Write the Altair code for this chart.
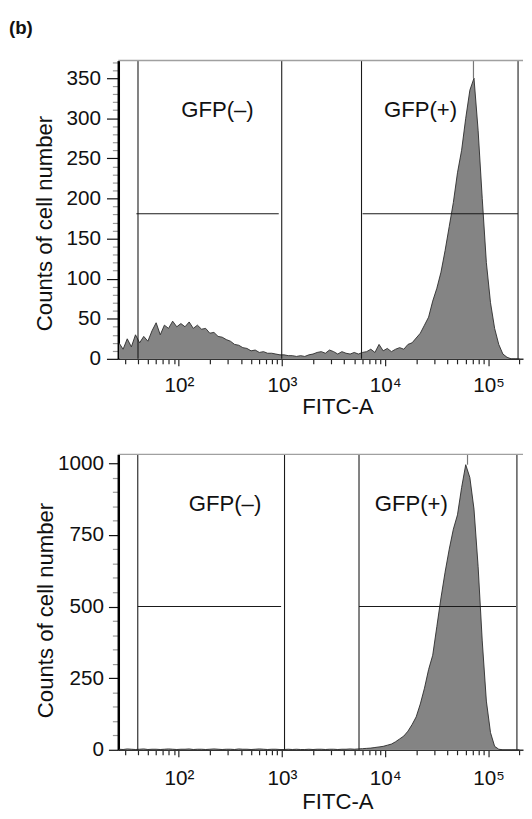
import altair as alt
import pandas as pd

# ---------------- data ----------------
LOG_BINS = [1.42, 1.46, 1.50, 1.54, 1.58, 1.62, 1.66, 1.70, 1.74, 1.78,
            1.82, 1.86, 1.90, 1.94, 1.98, 2.02, 2.06, 2.10, 2.14, 2.18,
            2.22, 2.26, 2.30, 2.34, 2.38, 2.42, 2.46, 2.50, 2.54, 2.58,
            2.62, 2.66, 2.70, 2.74, 2.78, 2.82, 2.86, 2.90, 2.94, 2.98,
            3.02, 3.06, 3.10, 3.14, 3.18, 3.22, 3.26, 3.30, 3.34, 3.38,
            3.42, 3.46, 3.50, 3.54, 3.58, 3.62, 3.66, 3.70, 3.74, 3.78,
            3.82, 3.86, 3.90, 3.94, 3.98, 4.02, 4.06, 4.10, 4.14, 4.18,
            4.22, 4.26, 4.30, 4.34, 4.38, 4.42, 4.46, 4.50, 4.54, 4.58,
            4.62, 4.66, 4.70, 4.74, 4.78, 4.82, 4.86, 4.90, 4.94, 4.98,
            5.02, 5.06, 5.10, 5.14, 5.18, 5.22, 5.26, 5.30]

TOP_COUNTS = [20, 12, 25, 15, 30, 20, 28, 22, 35, 45,
              30, 42, 38, 47, 40, 44, 40, 46, 38, 42,
              37, 38, 32, 33, 28, 27, 24, 22, 18, 17,
              14, 13, 10, 11, 8, 9, 7, 7, 6, 5,
              5, 4, 4, 3, 4, 3, 5, 6, 8, 9,
              7, 11, 9, 6, 9, 7, 6, 8, 6, 8,
              9, 12, 8, 18, 10, 13, 9, 12, 14, 12,
              18, 20, 26, 32, 42, 52, 72, 88, 108, 135,
              165, 195, 232, 260, 300, 335, 350, 285, 200, 120,
              70, 38, 18, 6, 2, 0, 0, 0]

BOTTOM_COUNTS = [2, 1, 3, 2, 1, 2, 3, 1, 2, 2,
                 1, 2, 3, 2, 1, 2, 2, 3, 1, 2,
                 2, 1, 2, 3, 2, 1, 2, 2, 1, 3,
                 2, 2, 1, 2, 3, 2, 1, 2, 2, 1,
                 1, 2, 1, 2, 1, 1, 2, 1, 2, 2,
                 1, 2, 2, 1, 2, 2, 3, 2, 3, 4,
                 5, 6, 8, 10, 12, 16, 20, 28, 38, 48,
                 65, 88, 115, 160, 215, 280, 330, 430, 530, 620,
                 700, 770, 820, 915, 995, 950, 840, 640, 380, 170,
                 60, 12, 2, 0, 0, 0, 0, 0]

X_TICKS = [30, 40, 50, 60, 70, 80, 90,
           100, 200, 300, 400, 500, 600, 700, 800, 900,
           1000, 2000, 3000, 4000, 5000, 6000, 7000, 8000, 9000,
           10000, 20000, 30000, 40000, 50000, 60000, 70000, 80000, 90000,
           100000, 200000]
X_DOMAIN = [25.9, 216300]

TOP_Y_TICKS = [0, 10, 20, 30, 40, 50, 60, 70, 80, 90, 100, 110, 120, 130, 140,
               150, 160, 170, 180, 190, 200, 210, 220, 230, 240, 250, 260, 270,
               280, 290, 300, 310, 320, 330, 340, 350, 360, 370]
TOP_Y_DOMAIN = [0, 372]
BOTTOM_Y_TICKS = [0, 50, 100, 150, 200, 250, 300, 350, 400, 450, 500, 550,
                  600, 650, 700, 750, 800, 850, 900, 950, 1000]
BOTTOM_Y_DOMAIN = [0, 1031]

TOP_GATES_V = [40.2, 993, 5890, 193600]
TOP_GATES_H_X = [38.8, 6030]
TOP_GATES_H_X2 = [929, 193600]
TOP_GATE_Y = 181

BOTTOM_GATES_V = [40, 1057, 5570, 188800]
BOTTOM_GATES_H_X = [40, 5570]
BOTTOM_GATES_H_X2 = [979, 185000]
BOTTOM_GATE_Y = 500

LABELS = ["GFP(\u2013)", "GFP(+)"]
TOP_LABEL_X = [236.6, 22000]
TOP_LABEL_Y = 310
BOTTOM_LABEL_X = [280, 17900]
BOTTOM_LABEL_Y = 859

TOP_SPIKE = {"x": 71600, "y": 350, "y2": 372}
BOTTOM_SPIKE = {"x": 62700, "y": 995, "y2": 1031}

FONT = "Liberation Sans"
W = 411


def panel(counts, y_ticks, y_domain, major_step, gates_v, gh_x, gh_x2, gate_y,
          label_x, label_y, spike, height, title_y, title_x, label_pad,
          xtitle_y, ytick_major, ylabel_pad, with_tag):
    hist = pd.DataFrame({"x": [10 ** b for b in LOG_BINS], "y": counts})
    xscale = alt.Scale(type="log", domain=X_DOMAIN, nice=False)
    yscale = alt.Scale(domain=y_domain, nice=False, zero=True)
    decade = "(datum.value==100||datum.value==1000||datum.value==10000||datum.value==100000)"
    xaxis = alt.Axis(
        values=X_TICKS, grid=False,
        labelExpr="datum.value==100?'10\u00b2':datum.value==1000?'10\u00b3':"
                  "datum.value==10000?'10\u2074':datum.value==100000?'10\u2075':''",
        labelOverlap=False, labelFont=FONT, labelFontSize=21, labelColor="#111",
        labelBaseline="alphabetic", labelPadding=label_pad,
        tickSize={"condition": {"test": decade, "value": 7}, "value": 5},
        tickColor="#222", tickWidth=1.2,
        domainColor="#333", domainWidth=1.5,
        title="FITC-A", titleFont=FONT, titleFontSize=22.5, titleFontWeight="normal",
        titleColor="#111", titleX=222.6, titleY=xtitle_y, titleBaseline="alphabetic",
        titleAlign="center")
    major = f"datum.value % {major_step} === 0"
    yaxis = alt.Axis(
        values=y_ticks, grid=False,
        labelExpr=f"{major} ? '' + datum.value : ''",
        labelOverlap=False, labelFont=FONT, labelFontSize=21, labelColor="#111",
        labelPadding=ylabel_pad,
        tickSize={"condition": {"test": major, "value": ytick_major}, "value": 6},
        tickColor={"condition": {"test": major, "value": "#111"}, "value": "#999"},
        tickWidth=1.2,
        domainColor="#000", domainWidth=2.5,
        title="Counts of cell number", titleFont=FONT, titleFontSize=22.5,
        titleFontWeight="normal", titleColor="#111",
        titleX=title_x, titleY=title_y, titleBaseline="alphabetic", titleAngle=270,
        titleAlign="center")
    X = alt.X("x:Q", scale=xscale, axis=xaxis)
    Y = alt.Y("y:Q", scale=yscale, axis=yaxis)

    area = alt.Chart(hist).mark_area(interpolate="linear", color="#848484").encode(x=X, y=Y)
    line = alt.Chart(hist).mark_line(interpolate="linear", color="#2a2a2a",
                                     strokeWidth=0.9).encode(x=X, y=Y)
    spike_df = pd.DataFrame([spike])
    spk = alt.Chart(spike_df).mark_rule(color="#777", strokeWidth=1.2).encode(
        x=X, y=Y, y2="y2:Q")
    vg = alt.Chart(pd.DataFrame({"x": gates_v})).mark_rule(
        color="#1a1a1a", strokeWidth=1.1).encode(x=X)
    hg = alt.Chart(pd.DataFrame({"x": gh_x, "x2": gh_x2, "y": [gate_y] * len(gh_x)})
                   ).mark_rule(color="#1a1a1a", strokeWidth=1.1).encode(
        x=X, x2="x2:Q", y=Y)
    lab = alt.Chart(pd.DataFrame({"x": label_x, "y": [label_y] * 2, "t": LABELS})
                    ).mark_text(font=FONT, fontSize=22.5, color="#111",
                                baseline="middle", align="center").encode(
        x=X, y=Y, text="t:N")
    frame = alt.Chart(pd.DataFrame({"a": [0]})).mark_rule(
        color="#a0a0a0", strokeWidth=1.5).encode(
        x=alt.value(0), x2=alt.value(W), y=alt.value(0))
    layers = [area, line, spk, vg, hg, lab, frame]
    if with_tag:
        tag = alt.Chart(pd.DataFrame({"t": ["(b)"]})).mark_text(
            font=FONT, fontSize=19, fontWeight="bold", color="#111",
            align="left", baseline="top").encode(
            x=alt.value(-111), y=alt.value(-42), text="t:N")
        layers.append(tag)
    return alt.layer(*layers).properties(width=W, height=height)


top = panel(TOP_COUNTS, TOP_Y_TICKS, TOP_Y_DOMAIN, 50, TOP_GATES_V,
            TOP_GATES_H_X, TOP_GATES_H_X2, TOP_GATE_Y, TOP_LABEL_X, TOP_LABEL_Y,
            TOP_SPIKE, 303, 165, -68, 26, 55.7, 12, 6, True)
bottom = panel(BOTTOM_COUNTS, BOTTOM_Y_TICKS, BOTTOM_Y_DOMAIN, 250, BOTTOM_GATES_V,
               BOTTOM_GATES_H_X, BOTTOM_GATES_H_X2, BOTTOM_GATE_Y, BOTTOM_LABEL_X,
               BOTTOM_LABEL_Y, BOTTOM_SPIKE, 300, 158, -66.5, 28, 59.7, 10, 5, False)

chart = alt.vconcat(top, bottom, spacing=34).properties(
    padding={"left": 1, "top": 5, "right": 0, "bottom": 0}
).configure_view(stroke=None)

chart.save("out.html", embed_options={"renderer": "svg", "actions": False})
